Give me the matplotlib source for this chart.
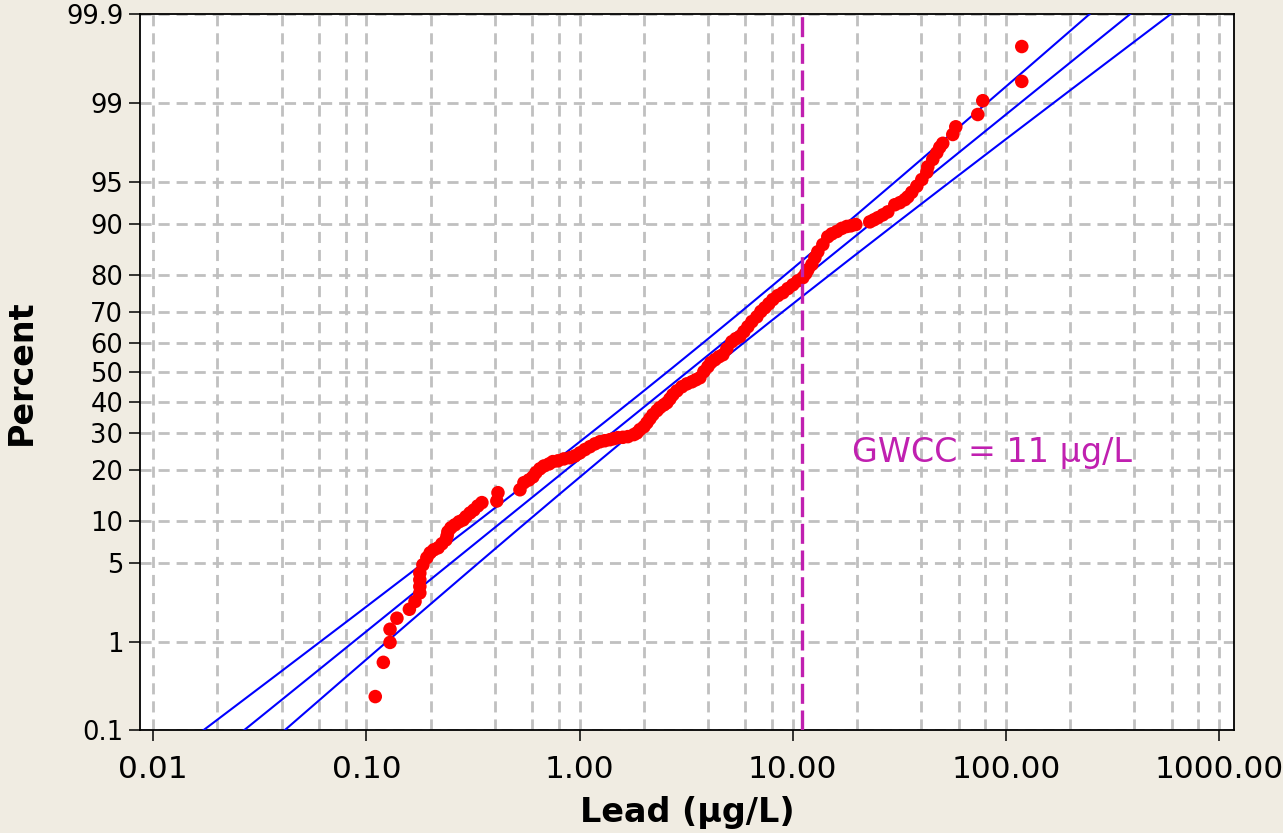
import numpy as np
import matplotlib
matplotlib.use("Agg")
import matplotlib.pyplot as plt
from matplotlib.ticker import FixedLocator, NullFormatter
from statistics import NormalDist

# Lead concentrations (ug/L) and their probability-plot percentiles
lead_ug_L = [
    0.110, 0.120, 0.129, 0.129, 0.139, 0.159, 0.169, 0.178, 0.178, 0.178,
    0.178, 0.184, 0.192, 0.199, 0.207, 0.217, 0.226, 0.236, 0.239, 0.241,
    0.249, 0.260, 0.272, 0.284, 0.293, 0.306, 0.319, 0.333, 0.348, 0.409,
    0.414, 0.525, 0.548, 0.578, 0.604, 0.624, 0.651, 0.680, 0.718, 0.749,
    0.791, 0.844, 0.901, 0.951, 1.003, 1.059, 1.118, 1.180, 1.245, 1.314,
    1.387, 1.448, 1.512, 1.596, 1.685, 1.797, 1.857, 1.918, 2.003, 2.069,
    2.137, 2.207, 2.305, 2.380, 2.486, 2.567, 2.652, 2.740, 2.860, 3.018,
    3.186, 3.363, 3.512, 3.666, 3.828, 3.998, 4.128, 4.311, 4.501, 4.699,
    4.908, 5.181, 5.408, 5.646, 5.897, 6.157, 6.429, 6.785, 7.086, 7.396,
    7.724, 8.065, 8.511, 8.986, 9.482, 10.01, 10.56, 11.15, 11.51, 11.77,
    12.29, 12.70, 13.11, 13.84, 14.60, 15.25, 16.10, 16.99, 17.93, 18.73,
    19.76, 22.98, 24.01, 25.06, 26.46, 27.92, 30.11, 31.78, 33.55, 34.65,
    36.18, 38.19, 40.31, 42.55, 43.01, 45.39, 47.39, 48.95, 50.56, 56.33,
    58.19, 73.8, 77.9, 118.7, 118.7,
]
percent = [
    0.254, 0.61, 0.98, 1.32, 1.68, 2.03, 2.38, 2.83, 3.21, 3.65,
    4.13, 4.81, 5.45, 5.94, 6.25, 6.47, 6.92, 7.38, 7.88, 8.40,
    8.95, 9.37, 9.82, 10.1, 10.6, 11.2, 11.7, 12.4, 13.0, 13.3,
    14.9, 15.5, 17.0, 17.6, 18.3, 19.3, 20.2, 20.9, 21.4, 22.0,
    22.2, 22.7, 23.0, 23.5, 24.3, 25.2, 26.0, 26.8, 27.4, 27.7,
    28.0, 28.3, 28.6, 28.7, 28.9, 29.5, 30.0, 31.0, 31.9, 33.1,
    34.4, 35.7, 37.0, 38.0, 38.9, 39.6, 40.9, 42.3, 43.6, 45.0,
    46.0, 46.7, 47.4, 48.1, 50.2, 51.9, 53.3, 54.3, 55.3, 56.0,
    58.0, 60.4, 61.4, 62.1, 63.7, 65.3, 66.9, 68.4, 70.0, 71.1,
    72.3, 73.5, 74.6, 75.4, 76.5, 77.5, 78.5, 79.3, 80.3, 81.2,
    82.4, 83.9, 85.1, 86.5, 87.9, 88.4, 88.8, 89.3, 89.6, 89.7,
    89.9, 90.3, 90.6, 90.9, 91.3, 91.7, 92.6, 92.85, 93.2, 93.5,
    94.0, 94.6, 95.2, 95.8, 96.2, 96.7, 97.1, 97.4, 97.6, 98.0,
    98.3, 98.7, 99.05, 99.40, 99.755,
]

# Lognormal fit (log10 scale) and standard errors for the confidence band
fit_log10_mean = 0.504
fit_log10_sd = 0.672
se_mean = 0.048
se_sd = 0.0273
z_crit = 1.96

gwcc_value = 11.0
gwcc_label = "GWCC = 11 µg/L"

y_ticks = [0.1, 1, 5, 10, 20, 30, 40, 50, 60, 70, 80, 90, 95, 99, 99.9]
y_tick_labels = ["0.1", "1", "5", "10", "20", "30", "40", "50", "60", "70",
                 "80", "90", "95", "99", "99.9"]
x_ticks = [0.01, 0.1, 1, 10, 100, 1000]
x_tick_labels = ["0.01", "0.10", "1.00", "10.00", "100.00", "1000.00"]

_nd = NormalDist()
_inv = np.vectorize(lambda q: _nd.inv_cdf(q), otypes=[float])
_cdf = np.vectorize(lambda z: _nd.cdf(z), otypes=[float])


def pct_to_z(p):
    q = np.clip(np.asarray(p, dtype=float) / 100.0, 1e-12, 1 - 1e-12)
    return _inv(q)


def z_to_pct(z):
    return _cdf(np.asarray(z, dtype=float)) * 100.0


plt.rcParams["font.family"] = ["DejaVu Sans"]

fig = plt.figure(figsize=(12.83, 8.33), dpi=100, facecolor="#F0ECE2")
ax = fig.add_axes([0.1091, 0.1237, 0.8527, 0.8589])
ax.set_facecolor("white")

ax.set_xscale("log")
ax.set_yscale("function", functions=(pct_to_z, z_to_pct))
ax.set_xlim(0.00866, 1175)
ax.set_ylim(0.1, 99.9)

# Fitted percentile line and its confidence band
zz = np.linspace(-3.3, 3.3, 400)
centre = fit_log10_mean + zz * fit_log10_sd
half = z_crit * np.sqrt(se_mean ** 2 + (zz * se_sd) ** 2)
pp = z_to_pct(zz)
for lx in (centre - half, centre, centre + half):
    ax.plot(10 ** lx, pp, color="#0000FF", lw=1.5, zorder=3)

ax.scatter(lead_ug_L, percent, s=95, color="#FF0000", edgecolors="none",
           zorder=4, clip_on=False)

ax.axvline(gwcc_value, color="#C020B0", lw=2.4, ls=(0, (6, 2)), zorder=5)
ax.text(18.9, 24.3, gwcc_label, color="#C020B0", fontsize=24,
        ha="left", va="center")

# Axes, ticks and grid
ax.yaxis.set_major_locator(FixedLocator(y_ticks))
ax.set_yticklabels(y_tick_labels)
ax.yaxis.set_minor_locator(FixedLocator([]))
ax.xaxis.set_major_locator(FixedLocator(x_ticks))
ax.set_xticklabels(x_tick_labels)
minor_x = [m * 10.0 ** e for e in range(-3, 4) for m in (2, 4, 6, 8)]
ax.xaxis.set_minor_locator(FixedLocator(minor_x))
ax.xaxis.set_minor_formatter(NullFormatter())

ax.tick_params(axis="x", which="major", labelsize=22.5, length=8, width=1.1,
               direction="out", pad=10, top=False)
ax.tick_params(axis="x", which="minor", length=0, top=False)
ax.tick_params(axis="y", which="major", labelsize=18.5, length=8, width=1.1,
               direction="out", pad=4, right=False)
ax.tick_params(axis="y", which="minor", length=0)

ax.grid(True, which="major", axis="both", color="#C0C0C0", lw=2.0,
        ls=(0, (4, 2.5)))
ax.grid(True, which="minor", axis="x", color="#C0C0C0", lw=2.0,
        ls=(0, (4, 2.5)))
ax.set_axisbelow(True)

for sp in ax.spines.values():
    sp.set_linewidth(1.3)
    sp.set_color("black")

ax.set_xlabel("Lead (µg/L)", fontsize=24, fontweight="bold", labelpad=9)
ax.set_ylabel("Percent", fontsize=24, fontweight="bold", labelpad=20)

fig.savefig("out.png", dpi=100, facecolor=fig.get_facecolor())
